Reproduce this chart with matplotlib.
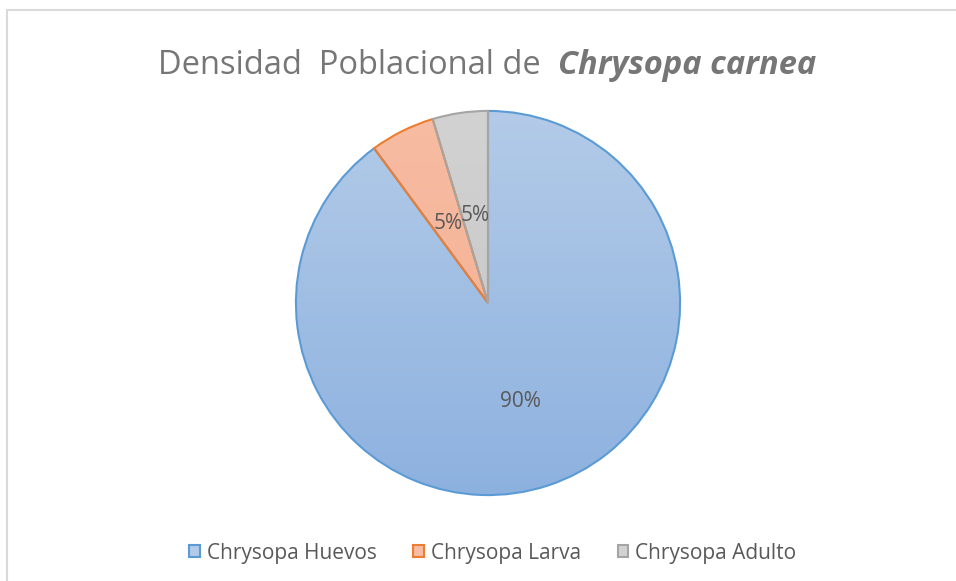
import numpy as np
import matplotlib
matplotlib.use("Agg")
import matplotlib.pyplot as plt
from matplotlib.patches import Patch
from matplotlib.lines import Line2D
from matplotlib.colors import LinearSegmentedColormap

# data
categories = ["Chrysopa Huevos", "Chrysopa Larva", "Chrysopa Adulto"]
shares = [89.9, 5.45, 4.65]

# style
fill_top = ["#b3cbe8", "#f7bca3", "#d2d2d2"]
fill_bot = ["#8db1df", "#f3ad8e", "#c4c4c4"]
edge_cols = ["#5b9bd5", "#ed7d31", "#a5a5a5"]
label_dist = [0.54, 0.46, 0.46]
TXT = "#595959"
TITLE = "#767676"
FONT = "Open Sans"

W, H = 956, 581
fig = plt.figure(figsize=(W / 100, H / 100), dpi=100)

# chart frame (light grey, cropped at right/bottom)
for xs, ys in [([7 / W, 7 / W], [0, 1 - 10 / H]), ([7 / W, 1], [1 - 10 / H, 1 - 10 / H])]:
    fig.add_artist(Line2D(xs, ys, color="#d9d9d9", lw=1.5, transform=fig.transFigure))

cx, cy, r = 488, 303, 194
ax = fig.add_axes([(cx - r) / W, (H - cy - r) / H, 2 * r / W, 2 * r / H])
wedges, _, autotexts = ax.pie(shares, startangle=90, counterclock=False, radius=1,
                              autopct="%1.0f%%", pctdistance=0.5,
                              wedgeprops=dict(linewidth=1.5),
                              textprops=dict(color=TXT, fontsize=15, family=FONT))
ax.set_xlim(-1.01, 1.01)
ax.set_ylim(-1.01, 1.01)
ax.set_aspect("equal")
ax.axis("off")

grad = np.linspace(1, 0, 256).reshape(-1, 1)
for i, w in enumerate(wedges):
    w.set_facecolor("none")
    w.set_edgecolor(edge_cols[i])
    w.set_zorder(3)
    cmap = LinearSegmentedColormap.from_list(f"g{i}", [fill_bot[i], fill_top[i]])
    im = ax.imshow(grad, cmap=cmap, extent=[-1, 1, -1, 1], aspect="auto", zorder=2)
    im.set_clip_path(w)
    mid = np.deg2rad((w.theta1 + w.theta2) / 2)
    autotexts[i].set_position((label_dist[i] * np.cos(mid), label_dist[i] * np.sin(mid)))
    autotexts[i].set_zorder(4)

# title: normal part + bold italic species name
fig.canvas.draw()
rend = fig.canvas.get_renderer()
ty = 1 - 66 / H
t1 = fig.text(0, ty, "Densidad  Poblacional de  ", fontsize=23.5, color=TITLE,
              family=FONT, va="center")
t2 = fig.text(0, ty, "Chrysopa carnea", fontsize=23.5, color=TITLE, family=FONT,
              style="italic", weight="bold", va="center")
w1 = t1.get_window_extent(rend).width
w2 = t2.get_window_extent(rend).width
x0 = 487 - (w1 + w2) / 2
t1.set_x(x0 / W)
t2.set_x((x0 + w1) / W)

handles = [Patch(facecolor=fill_top[i], edgecolor=edge_cols[i], lw=1.5) for i in range(3)]
fig.legend(handles, categories, loc="center", bbox_to_anchor=(493 / W, 1 - 553 / H),
           ncol=3, frameon=False, handlelength=0.5, handleheight=0.5,
           handletextpad=0.35, columnspacing=1.75,
           prop=dict(family=FONT, size=15), labelcolor=TXT)

fig.savefig("out.png", dpi=100)
